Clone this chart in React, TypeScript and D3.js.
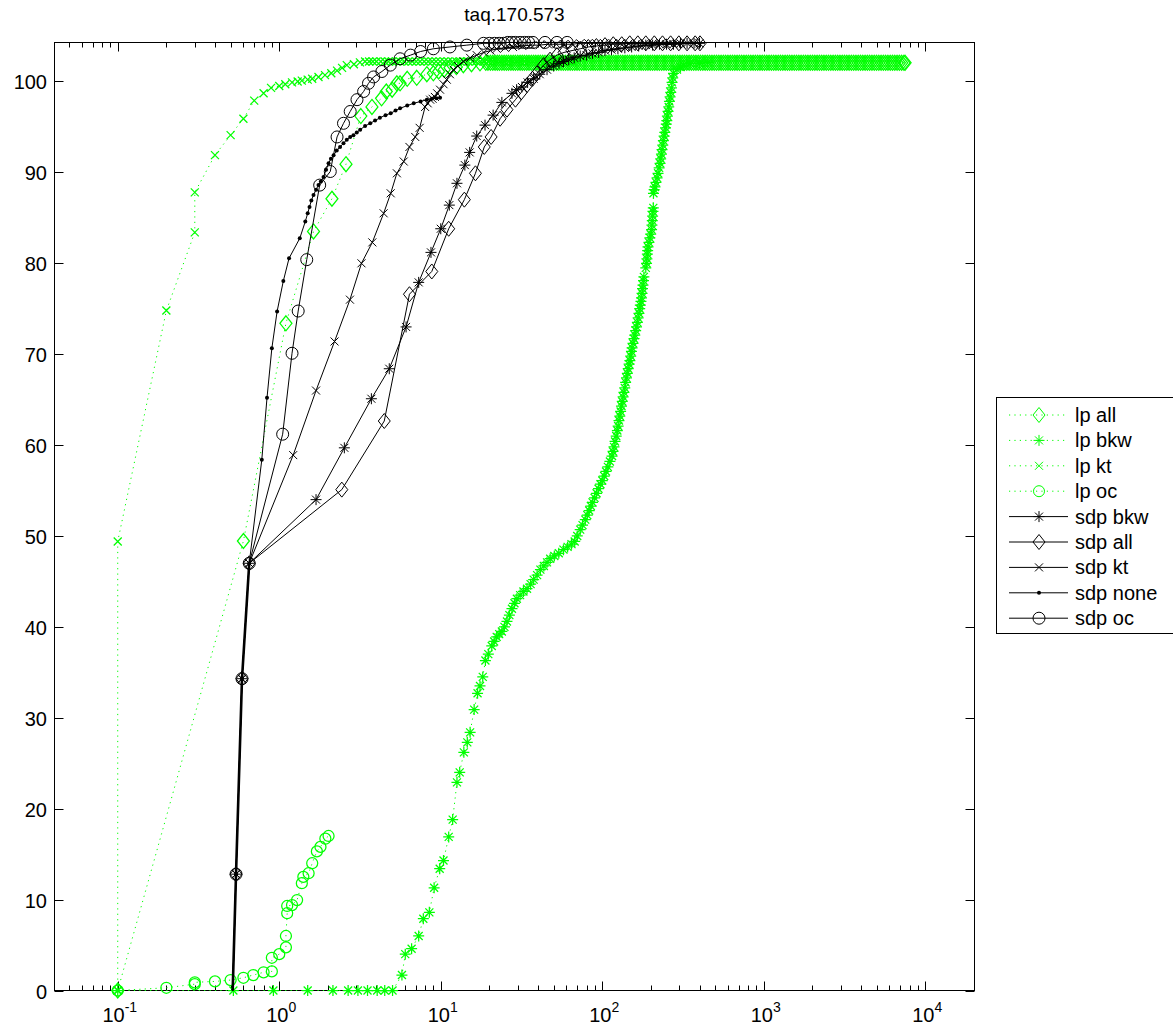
import React, { useRef, useEffect } from "react";
import * as d3 from "d3";

type Pt = [number, number];

const title = "taq.170.573";
const yTickValues = [0, 10, 20, 30, 40, 50, 60, 70, 80, 90, 100];
const xTickExponents = [-1, 0, 1, 2, 3, 4];

// ---- lp runs (green, dotted) ----
const lpAllHead: Pt[] = [
  [0.1, 0], [0.6, 49.45], [1.1, 73.4], [1.63, 83.5], [2.12, 87.1], [2.59, 90.9], [3.2, 96.2],
  [3.75, 97.2], [4.3, 98.15], [4.6, 98.9], [5.0, 99.1], [5.35, 99.8], [5.6, 99.8], [6.2, 100.3],
  [7.1, 100.4], [8.2, 100.8], [9.0, 100.9], [9.7, 101.1], [10.5, 101.3], [11.4, 101.5],
  [12.5, 101.6], [13.8, 101.8], [15.5, 101.9], [17.5, 102.0],
];
// dense flat tail of lp all (the solid green band at ~102)
const lpAllTailX = [
  19, 19.6, 20.3, 21, 21.7, 22.4, 23.1, 23.9, 24.7, 25.5, 26.3, 27.2, 28.1, 29, 30, 31, 32, 33,
  34.1, 35.2, 36.4, 37.6, 38.8, 40.1, 41.4, 42.8, 44.2, 45.7, 47.2, 48.8, 50.4, 52.1, 53.8,
  55.6, 57.4, 59.3, 61.3, 63.3, 65.4, 67.6, 69.8, 72.1, 74.5, 77, 79.5, 82.2, 84.9, 87.7, 90.6,
  93.6, 96.7, 99.9, 103.2, 106.7, 110.2, 113.9, 117.6, 121.5, 125.6, 129.7, 134, 138.5, 143,
  147.8, 152.7, 157.8, 163, 168.4, 174, 179.7, 185.7, 191.8, 198.2, 204.8, 211.5, 218.6, 225.8,
  233.3, 241, 249, 257.3, 265.8, 274.6, 283.7, 293.1, 302.8, 312.9, 323.2, 333.9, 345, 356.4,
  368.2, 380.4, 393, 406, 419.5, 433.4, 447.7, 462.6, 477.9, 493.7, 510, 527, 544.4, 562.5,
  581.1, 600.3, 620.2, 640.8, 662, 683.9, 706.6, 730, 754.2, 779.1, 804.9, 831.6, 859.1, 887.6,
  917, 947.4, 978.7, 1011, 1045, 1079, 1115, 1152, 1190, 1230, 1270, 1312, 1356, 1401, 1447,
  1495, 1545, 1596, 1649, 1703, 1760, 1818, 1878, 1940, 2005, 2071, 2140, 2211, 2284, 2359,
  2437, 2518, 2601, 2688, 2777, 2869, 2964, 3062, 3163, 3268, 3376, 3488, 3603, 3723, 3846,
  3973, 4105, 4241, 4381, 4526, 4676, 4831, 4991, 5156, 5327, 5503, 5685, 5873, 6068, 6269,
  6476, 6691, 6912, 7141, 7377, 7500,
];
const lpAllTailLevel = 102.05;

const lpBkw: Pt[] = [
  [0.1, 0], [0.52, 0], [0.92, 0], [1.5, 0], [2.15, 0], [2.67, 0], [3.07, 0], [3.52, 0],
  [4.04, 0], [4.5, 0], [5.03, 0], [5.75, 1.7], [6.03, 4.0], [6.6, 4.6], [7.3, 6.0], [7.8, 7.9],
  [8.5, 8.6], [9.1, 11.3], [9.85, 13.4], [10.4, 14.3], [11.2, 16.9], [11.85, 18.8], [12.6, 22.9],
  [13.1, 24.0], [13.9, 26.2], [14.6, 27.3], [15.2, 28.4], [16.1, 30.9], [16.9, 32.7],
  [17.5, 33.5], [18.2, 34.5], [18.9, 36.3], [19.7, 37.0], [20.7, 37.9], [21.4, 38.4],
  [22.2, 38.9], [23, 39.2], [23.9, 39.5], [24.8, 40.0], [25.7, 40.6], [26.6, 41.3], [27.6, 42.0],
  [28.6, 42.6], [29.6, 43.1], [31, 43.5], [32.5, 43.9], [34.2, 44.2], [36, 44.7], [37.6, 45.2],
  [39.5, 45.7], [41.4, 46.3], [43.5, 46.7], [45.5, 47.1], [47.6, 47.5], [50.5, 47.8],
  [53.8, 48.1], [57.5, 48.5], [61, 48.8], [64.5, 49.1], [67.5, 49.4], [70, 50.0],
  [73, 50.7], [75.5, 51.2], [78.5, 51.8], [80.8, 52.3], [83, 52.8], [85, 53.3], [87, 53.7],
  [89.6, 54.2], [92.2, 54.7], [94.8, 55.2], [97.5, 55.7], [100, 56.1], [102.8, 56.6],
  [105.5, 57.1], [108.3, 57.6], [111.5, 58.2], [115, 58.8], [116.6, 59.3], [118.2, 59.8],
  [120, 60.4], [122, 61.0], [124, 61.6], [125.4, 62.1], [126.9, 62.7], [128.4, 63.2],
  [129.9, 63.7], [131.5, 64.3], [133, 64.8], [134.6, 65.3], [136.2, 65.8], [137.8, 66.3],
  [139.5, 66.9], [141.2, 67.4], [143, 67.9], [144.8, 68.4], [146.6, 68.9], [148.3, 69.3],
  [150, 69.8], [151.6, 70.3], [153, 70.7], [155, 71.2], [157.2, 71.7], [159, 72.1], [161, 72.6],
  [163, 73.0], [165, 73.5], [166.8, 74.0], [168.7, 74.5], [170.5, 75.0], [172, 75.4],
  [173.6, 75.8], [175, 76.2], [176.3, 76.7], [177.5, 77.2], [178.7, 77.6], [180, 78.1],
  [181, 78.5],
  [186, 79.5], [188, 80.0], [189, 80.5], [190.2, 81.0], [191, 81.4], [192, 81.8], [194.5, 82.3],
  [197, 82.8], [199.5, 83.2], [202, 83.7], [203, 84.2], [204, 84.7], [205, 85.2], [206, 85.7],
  [207, 86.1],
  [207.5, 87.7], [209.5, 88.1], [212, 88.4], [215, 88.9], [218.5, 89.4], [221.5, 89.9],
  [225, 90.5], [228, 91.0], [230, 91.5], [232.5, 92.0], [234.5, 92.5], [237, 93.0], [239, 93.5],
  [241.5, 94.0], [244, 94.4], [246.5, 94.9], [249, 95.3], [251, 95.7], [253, 96.2],
  [255.5, 96.7], [258, 97.2], [260.5, 97.8], [263, 98.3], [265.5, 98.8], [268, 99.3],
  [270.5, 99.9], [273, 100.4], [276, 100.9], [290, 101.3], [305, 101.6], [320, 101.8],
  [350, 102.0], [400, 102.0], [450, 102.1],
];

const lpKtHead: Pt[] = [
  [0.1, 0], [0.1, 49.4], [0.2, 74.8], [0.3, 83.4], [0.3, 87.8], [0.4, 91.9], [0.5, 94.1],
  [0.6, 95.9], [0.7, 97.9], [0.8, 98.7], [0.89, 99.3], [1.0, 99.5], [1.09, 99.7], [1.2, 99.9],
  [1.3, 100.0], [1.38, 100.1], [1.5, 100.2], [1.6, 100.3], [1.75, 100.5], [1.92, 100.7],
  [2.1, 100.9], [2.28, 101.2], [2.45, 101.5], [2.62, 101.8], [2.9, 101.9], [3.16, 102.1],
];
const lpKtTailX = [
  3.4, 3.6, 3.8, 4.0, 4.25, 4.5, 4.75, 5.0, 5.3, 5.6, 5.95, 6.3, 6.65, 7.05, 7.45, 7.9, 8.35,
  8.85, 9.35, 9.9, 10.5, 11.1, 11.8, 12.5, 13.2, 14, 14.8, 15.7, 16.6, 17.6, 18.6, 19.7, 20.9,
  22.1, 23.4, 24.8, 26.3, 27.8, 29.5, 31.2, 33, 35, 37, 39.2, 41.5, 44, 46.5, 49.3, 52.2, 55.3,
  58.5, 62, 65.6, 69.5,
];
const lpKtTailLevel = 102.2;

const lpOc: Pt[] = [
  [0.1, 0], [0.2, 0.3], [0.3, 0.7], [0.3, 0.9], [0.4, 1.0], [0.5, 1.15], [0.6, 1.4], [0.69, 1.7],
  [0.8, 2.0], [0.9, 2.1], [0.9, 3.6], [1.0, 4.0], [1.1, 4.75], [1.1, 6.0], [1.12, 8.5],
  [1.12, 9.3], [1.2, 9.4], [1.29, 9.95], [1.38, 11.8], [1.41, 12.5], [1.52, 12.9], [1.6, 14.0],
  [1.71, 15.3], [1.8, 15.8], [1.93, 16.7], [2.02, 17.0],
];

// ---- sdp runs (black, solid) ----
const sdpStart: Pt[] = [[0.515, 0], [0.54, 12.8], [0.588, 34.3], [0.652, 47.0]];

const sdpBkw: Pt[] = [
  [1.69, 54.0], [2.53, 59.7], [3.72, 65.1], [4.8, 68.4], [6.1, 73.0], [7.3, 77.9], [8.7, 81.2],
  [10.0, 83.8], [11.3, 86.4], [12.6, 88.8], [14.1, 90.8], [15.1, 92.2], [16.7, 94.0],
  [18.8, 95.2], [21.1, 96.3], [23.9, 97.7], [27.6, 98.7], [29.5, 99.1], [31.8, 99.4],
  [34.5, 99.9], [37.6, 100.3], [41, 100.8], [45.5, 101.3], [50, 101.7], [54, 102.0],
  [57.5, 102.2], [62, 102.4], [67, 102.6], [73, 102.8], [80, 102.9], [87, 103.1], [95, 103.2],
  [104, 103.4], [114, 103.5], [125, 103.6], [138, 103.7], [152, 103.8], [168, 103.9],
  [186, 104.0], [205, 104.0], [226, 104.1], [250, 104.1], [276, 104.1], [305, 104.2],
  [335, 104.2], [370, 104.2], [400, 104.2],
];

const sdpAll: Pt[] = [
  [2.44, 55.1], [4.47, 62.65], [6.4, 76.6], [8.8, 79.1], [11.2, 83.8], [14.0, 87.0],
  [16.4, 89.9], [18.6, 92.8], [20.5, 93.9], [23.3, 95.9], [25.7, 96.9], [29.0, 98.0],
  [31.5, 98.8], [34.2, 99.6], [37, 100.3], [39.4, 100.9], [43.3, 101.8], [47.5, 102.4],
  [52.4, 102.9], [58, 103.2], [65, 103.4], [73, 103.6], [82, 103.8], [92, 103.9], [104, 104.0],
  [117, 104.1], [132, 104.1], [148, 104.2], [166, 104.2], [186, 104.2], [210, 104.2],
  [236, 104.2], [265, 104.2], [298, 104.2], [335, 104.2], [376, 104.2], [403, 104.2],
];

const sdpKt: Pt[] = [
  [1.22, 58.9], [1.69, 66.0], [2.2, 71.4], [2.74, 76.0], [3.23, 80.0], [3.77, 82.3],
  [4.43, 85.5], [4.9, 87.7], [5.35, 89.9], [5.9, 91.2], [6.4, 92.8], [6.95, 93.9], [7.4, 94.9],
  [8.0, 97.2], [8.3, 97.6], [8.6, 98.0], [8.9, 98.1], [9.2, 98.3], [9.5, 98.7], [9.9, 99.1],
  [10.4, 99.7], [10.9, 100.2], [11.4, 100.8], [12.0, 101.3], [12.8, 101.7], [13.8, 102.2],
  [15.2, 102.6], [16.7, 102.9], [18.5, 103.2], [20.3, 103.4], [22.2, 103.6], [25, 103.7],
  [28, 103.8], [32, 103.9], [36, 104.0], [41, 104.0], [46, 104.1], [52, 104.1], [58, 104.1],
  [65, 104.1], [73, 104.2], [82, 104.2], [92, 104.2], [103, 104.2], [116, 104.2], [130, 104.2],
  [146, 104.2], [164, 104.2], [184, 104.2], [206, 104.2], [231, 104.2], [260, 104.2],
  [292, 104.2],
];

const sdpNone: Pt[] = [
  [0.78, 58.4], [0.84, 65.2], [0.9, 70.65], [0.97, 74.7], [1.06, 78.05], [1.15, 80.55],
  [1.34, 82.75], [1.45, 84.6], [1.5, 85.5], [1.54, 86.2], [1.58, 86.9], [1.63, 87.5],
  [1.69, 88.1], [1.75, 88.6], [1.81, 89.0], [1.88, 89.5], [1.95, 90.3], [2.02, 91.0],
  [2.09, 91.5], [2.17, 91.9], [2.27, 92.4], [2.38, 92.8], [2.5, 93.2], [2.62, 93.6],
  [2.75, 93.9], [2.88, 94.1], [3.02, 94.4], [3.17, 94.7], [3.4, 95.1], [3.66, 95.4],
  [3.92, 95.7], [4.2, 96.0], [4.55, 96.3], [4.9, 96.5], [5.25, 96.8], [5.6, 97.05],
  [6.2, 97.35], [6.8, 97.6], [7.5, 97.8], [8.2, 98.0], [8.8, 98.1], [9.4, 98.15], [9.9, 98.2],
];

const sdpOc: Pt[] = [
  [1.05, 61.2], [1.2, 70.1], [1.31, 74.75], [1.48, 80.4], [1.78, 88.6], [2.07, 90.1],
  [2.28, 93.9], [2.5, 95.4], [2.75, 96.7], [3.03, 98.0], [3.33, 98.9], [3.57, 99.8],
  [3.84, 100.5], [4.32, 101.1], [4.87, 101.8], [5.6, 102.5], [6.5, 102.9], [7.5, 103.3],
  [9.0, 103.6], [11.4, 103.8], [14.5, 104.0], [18.4, 104.2], [20, 104.2], [21.5, 104.2],
  [23, 104.2], [24.5, 104.2], [26, 104.3], [27.5, 104.3], [29, 104.3], [31, 104.3],
  [33, 104.3], [35, 104.3], [37.2, 104.3], [44.2, 104.3], [52.4, 104.3], [60.6, 104.3],
];

const GREEN = "#00ff00";
const BLACK = "#000000";

const seriesList = [
  { name: "lp all", data: [...lpAllHead, ...lpAllTailX.map((v) => [v, lpAllTailLevel] as Pt)], color: GREEN, dotted: true, marker: "diamond" },
  { name: "lp bkw", data: lpBkw, color: GREEN, dotted: true, marker: "star" },
  { name: "lp kt", data: [...lpKtHead, ...lpKtTailX.map((v) => [v, lpKtTailLevel] as Pt)], color: GREEN, dotted: true, marker: "x" },
  { name: "lp oc", data: lpOc, color: GREEN, dotted: true, marker: "circle" },
  { name: "sdp bkw", data: [...sdpStart, ...sdpBkw], color: BLACK, dotted: false, marker: "star" },
  { name: "sdp all", data: [...sdpStart, ...sdpAll], color: BLACK, dotted: false, marker: "diamond" },
  { name: "sdp kt", data: [...sdpStart, ...sdpKt], color: BLACK, dotted: false, marker: "x" },
  { name: "sdp none", data: [...sdpStart, ...sdpNone], color: BLACK, dotted: false, marker: "dot" },
  { name: "sdp oc", data: [...sdpStart, ...sdpOc], color: BLACK, dotted: false, marker: "circle" },
];

const FONT = "'Liberation Sans', Arial, Helvetica, sans-serif";

const markerPath = (type: string) => {
  if (type === "diamond") return "M0,-7.5L6,0L0,7.5L-6,0Z";
  if (type === "x") return "M-4,-4L4,4M-4,4L4,-4";
  // asterisk
  return "M-5.5,0H5.5M0,-5.5V5.5M-4,-4L4,4M-4,4L4,-4";
};

const drawMarker = (g: any, type: string, color: string, cx: number, cy: number, sw: number) => {
  if (type === "circle") {
    g.append("circle").attr("cx", cx).attr("cy", cy).attr("r", color === GREEN ? 5.5 : 6)
      .attr("fill", "none").attr("stroke", color).attr("stroke-width", sw);
  } else if (type === "dot") {
    g.append("circle").attr("cx", cx).attr("cy", cy).attr("r", 2).attr("fill", color);
  } else {
    g.append("path").attr("d", markerPath(type)).attr("transform", `translate(${cx},${cy})`)
      .attr("fill", "none").attr("stroke", color).attr("stroke-width", sw);
  }
};

export default function App() {
  const svgRef = useRef<SVGSVGElement>(null);

  useEffect(() => {
    const width = 1173;
    const height = 1030;
    const left = 54.5, right = 974.5, top = 42.5, bottom = 990.5;

    const svg = d3.select(svgRef.current).attr("width", width).attr("height", height).html("");
    svg.append("rect").attr("width", width).attr("height", height).attr("fill", "#fff");

    const x = d3.scaleLog().domain([0.0406, 20170]).range([left, right]);
    const y = d3.scaleLinear().domain([0, 104.29]).range([bottom, top]);

    // title
    svg.append("text").attr("x", (left + right) / 2).attr("y", 21)
      .attr("text-anchor", "middle").attr("font-family", FONT).attr("font-size", 19)
      .text(title);

    // axes box
    svg.append("rect").attr("x", left).attr("y", top).attr("width", right - left)
      .attr("height", bottom - top).attr("fill", "none").attr("stroke", BLACK).attr("stroke-width", 1);

    const axis = svg.append("g").attr("stroke", BLACK).attr("stroke-width", 1);

    // y ticks
    yTickValues.forEach((v) => {
      const py = Math.round(y(v)) + 0.5;
      axis.append("line").attr("x1", left).attr("x2", left + 9).attr("y1", py).attr("y2", py);
      axis.append("line").attr("x1", right).attr("x2", right - 9).attr("y1", py).attr("y2", py);
      svg.append("text").attr("x", 47).attr("y", py + 7).attr("text-anchor", "end")
        .attr("font-family", FONT).attr("font-size", 20).text(String(v));
    });

    // x ticks: decades and minor ticks
    for (let e = -2; e <= 4; e++) {
      for (let k = 1; k <= 9; k++) {
        const v = k * Math.pow(10, e);
        if (v < x.domain()[0] || v > x.domain()[1]) continue;
        const px = Math.round(x(v)) + 0.5;
        const len = k === 1 ? 9 : 5;
        axis.append("line").attr("x1", px).attr("x2", px).attr("y1", bottom).attr("y2", bottom - len);
        axis.append("line").attr("x1", px).attr("x2", px).attr("y1", top).attr("y2", top + len);
      }
    }
    xTickExponents.forEach((e) => {
      const px = x(Math.pow(10, e));
      const t = svg.append("text").attr("x", px + 2).attr("y", 1022).attr("text-anchor", "middle")
        .attr("font-family", FONT).attr("font-size", 20);
      t.append("tspan").text("10");
      t.append("tspan").attr("dy", -10).attr("font-size", 14).text(String(e));
    });

    // series
    const line = d3.line<Pt>().x((d) => x(d[0])).y((d) => y(d[1]));
    seriesList.forEach((s) => {
      const green = s.color === GREEN;
      svg.append("path").attr("d", line(s.data as Pt[]) || "").attr("fill", "none")
        .attr("stroke", s.color).attr("stroke-width", 1)
        .attr("stroke-dasharray", s.dotted ? "1.2,4.2" : null);
      const g = svg.append("g");
      (s.data as Pt[]).forEach((d) => {
        if (!green && d[1] === 0) return;
        drawMarker(g, s.marker, s.color, x(d[0]), y(d[1]), green ? 1.25 : 1);
      });
    });
    // the shared sdp start, where five black lines overlap
    svg.append("path").attr("d", line(sdpStart) || "").attr("fill", "none")
      .attr("stroke", BLACK).attr("stroke-width", 2.6);

    // legend
    const lg = svg.append("g");
    lg.append("rect").attr("x", 996.5).attr("y", 397.5).attr("width", 210).attr("height", 236)
      .attr("fill", "#fff").attr("stroke", BLACK).attr("stroke-width", 1);
    seriesList.forEach((s, i) => {
      const cy = 415 + i * 25.4;
      lg.append("line").attr("x1", 1009).attr("x2", 1068).attr("y1", cy).attr("y2", cy)
        .attr("stroke", s.color).attr("stroke-width", 1)
        .attr("stroke-dasharray", s.dotted ? "1.2,4.2" : null);
      drawMarker(lg, s.marker, s.color, 1039, cy, 1);
      lg.append("text").attr("x", 1075).attr("y", cy + 7).attr("font-family", FONT)
        .attr("font-size", 20).text(s.name);
    });
  }, []);

  return (
    <svg ref={svgRef} style={{ position: "absolute", left: 0, top: 0, display: "block" }} />
  );
}
